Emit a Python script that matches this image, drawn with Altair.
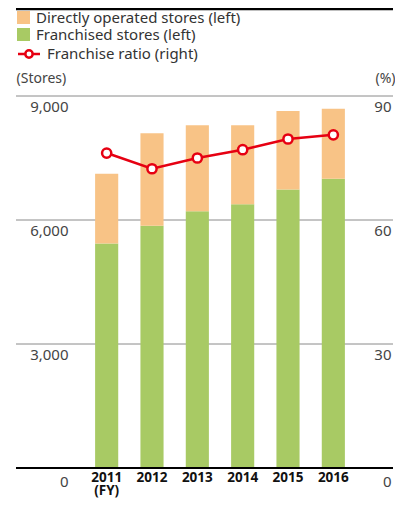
import altair as alt
import pandas as pd

years = ["2011", "2012", "2013", "2014", "2015", "2016"]
franchised = [5430, 5860, 6210, 6380, 6740, 7000]
directly = [1690, 2240, 2080, 1910, 1900, 1690]
ratio = [76.2, 72.4, 75.0, 77.0, 79.6, 80.6]
left_ticks = [0, 3000, 6000, 9000]
right_ticks = [0, 30, 60, 90]
grid_values = [3000, 6000, 9000]

DIR = "Directly operated stores (left)"
FRA = "Franchised stores (left)"
RAT = "Franchise ratio (right)"

bars_df = pd.DataFrame(
    [{"year": y, "type": FRA, "value": f, "ord": 0} for y, f in zip(years, franchised)]
    + [{"year": y, "type": DIR, "value": d, "ord": 1} for y, d in zip(years, directly)]
)
ratio_df = pd.DataFrame({"year": years, "ratio": ratio, "series": [RAT] * len(years)})
grid_df = pd.DataFrame({"value": grid_values})

FONT = "Noto Sans"
W, H = 377, 372

xscale = alt.Scale(range=[68, 340], paddingInner=0.49, paddingOuter=0.245)
xaxis = alt.Axis(
    title=None, ticks=False, tickSize=0, domain=False,
    labelFont=FONT, labelFontSize=13.5, labelFontWeight="bold", labelColor="#111",
    labelPadding=2, labelBaseline="top", labelAngle=0, labelLineHeight=13.5,
    labelExpr="datum.value == '2011' ? ['2011', '(FY)'] : datum.label",
)

lscale = alt.Scale(domain=[0, 9000], nice=False)
laxis = alt.Axis(
    values=left_ticks, grid=False, domain=False, ticks=False, tickSize=0,
    labelExpr="format(datum.value, ',')",
    labelFont=FONT, labelFontSize=15, labelColor="#444",
    labelAlign="right", labelBaseline="top", labelPadding=-52,
    labelOffset={"condition": {"test": "datum.value == 0", "value": 6}, "value": 3},
    title="(Stores)", titleAngle=0, titleAlign="left", titleBaseline="middle",
    titleX=0, titleY=-18, titleFont=FONT, titleFontSize=14,
    titleFontWeight="normal", titleColor="#444",
)

grid = alt.Chart(grid_df).mark_rule(color="#8a8a8a", strokeWidth=1).encode(
    y=alt.Y("value:Q", scale=lscale, axis=laxis),
    x=alt.value(0), x2=alt.value(W),
)

bars = alt.Chart(bars_df).mark_bar().encode(
    x=alt.X("year:N", scale=xscale, axis=xaxis),
    y=alt.Y("sum(value):Q", scale=lscale, axis=laxis),
    color=alt.Color(
        "type:N",
        scale=alt.Scale(domain=[DIR, FRA], range=["#F8C386", "#A8CA64"]),
        legend=alt.Legend(
            title=None, orient="none", legendX=0, legendY=-86, padding=0,
            symbolType="square", symbolSize=169, symbolStrokeWidth=0,
            labelFont=FONT, labelFontSize=15, labelColor="#333", labelOffset=5,
            labelLimit=400, rowPadding=1,
        ),
    ),
    order=alt.Order("ord:Q", sort="ascending"),
)

ry = alt.Scale(domain=[0, 90], nice=False)
raxis = alt.Axis(
    orient="right", values=right_ticks, grid=False, domain=False,
    ticks=False, tickSize=0, labelFont=FONT, labelFontSize=15,
    labelColor="#444", labelAlign="right", labelBaseline="top",
    labelPadding=-2,
    labelOffset={"condition": {"test": "datum.value == 0", "value": 6}, "value": 3},
    title="(%)", titleAngle=0, titleAlign="right", titleBaseline="middle",
    titleX=2, titleY=-18, titleFont=FONT, titleFontSize=14,
    titleFontWeight="normal", titleColor="#444",
)
line = alt.Chart(ratio_df).mark_line(strokeWidth=2.5).encode(
    x=alt.X("year:N", scale=xscale, axis=xaxis),
    y=alt.Y("ratio:Q", scale=ry, axis=raxis),
    stroke=alt.Stroke(
        "series:N",
        scale=alt.Scale(domain=[RAT], range=["#E60012"]),
        legend=alt.Legend(
            title=None, orient="none", legendX=4, legendY=-51, padding=0,
            symbolType="M-1.5,0H-0.5M0.5,0H1.5M-0.5,0A0.5,0.5 0 1,1 0.5,0A0.5,0.5 0 1,1 -0.5,0Z",
            symbolSize=215, symbolStrokeWidth=2.5, symbolFillColor="#fff",
            labelFont=FONT, labelFontSize=15, labelColor="#333", labelOffset=9,
            labelLimit=400,
        ),
    ),
)
points = alt.Chart(ratio_df).mark_point(
    filled=True, fill="#fff", stroke="#E60012", strokeWidth=2.5, size=85, opacity=1
).encode(
    x=alt.X("year:N", scale=xscale, axis=xaxis),
    y=alt.Y("ratio:Q", scale=ry, axis=raxis),
)

rules_df = pd.DataFrame({"pos": ["top", "bottom"]})
top_rule = alt.Chart(rules_df).transform_filter("datum.pos == 'top'").mark_rule(
    color="#000", strokeWidth=2.5
).encode(x=alt.value(0), x2=alt.value(W), y=alt.value(-87))
bottom_rule = alt.Chart(rules_df).transform_filter("datum.pos == 'bottom'").mark_rule(
    color="#000", strokeWidth=2
).encode(x=alt.value(0), x2=alt.value(W), y=alt.value(H))

chart = (
    alt.layer(alt.layer(grid, bars), alt.layer(line, points), top_rule, bottom_rule)
    .resolve_scale(y="independent", color="independent", stroke="independent")
    .properties(
        width=W, height=H,
        autosize=alt.AutoSizeParams(type="none"),
        padding={"left": 8, "top": 88, "right": 2, "bottom": 32},
    )
    .configure_view(stroke=None)
)

chart.save("out.html", embed_options={"renderer": "svg", "actions": False})
